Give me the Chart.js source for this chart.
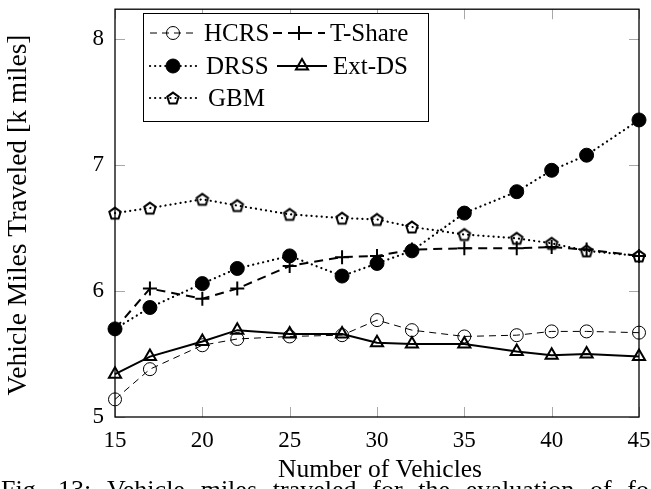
<!DOCTYPE html>
<html>
<head>
<meta charset="utf-8">
<script src="https://cdn.jsdelivr.net/npm/chart.js@4.4.1/dist/chart.umd.min.js"></script>
<style>
  html, body { margin: 0; padding: 0; background: #fff; }
  canvas { display: block; }
</style>
</head>
<body>
<canvas id="graficoVmt" width="651" height="489"></canvas>
<script>
// vehicle miles traveled (k miles) per fleet size
const vehicles = [15, 17, 20, 22, 25, 28, 30, 32, 35, 38, 40, 42, 45];
const hcrs   = [5.14, 5.38, 5.57, 5.62, 5.64, 5.65, 5.77, 5.69, 5.64, 5.65, 5.68, 5.68, 5.67];
const tShare = [5.70, 6.02, 5.94, 6.02, 6.20, 6.27, 6.28, 6.33, 6.34, 6.34, 6.35, 6.33, 6.28];
const drss   = [5.70, 5.87, 6.06, 6.18, 6.28, 6.12, 6.22, 6.32, 6.62, 6.79, 6.96, 7.08, 7.36];
const extDs  = [5.34, 5.48, 5.60, 5.69, 5.66, 5.66, 5.59, 5.58, 5.58, 5.52, 5.49, 5.50, 5.48];
const gbm    = [6.62, 6.66, 6.73, 6.68, 6.61, 6.58, 6.57, 6.51, 6.45, 6.42, 6.38, 6.32, 6.28];
const xTicks = [15, 20, 25, 30, 35, 40, 45];
const yTicks = [5, 6, 7, 8];

const fonte = '"Liberation Serif", "Times New Roman", serif';
const legenda = 'Fig. 13: Vehicle miles traveled for the evaluation of fo';

// open pentagon marker (no built-in pointStyle for it)
function pentagono(r, lw) {
    const c = document.createElement('canvas');
    const s = Math.ceil(2 * r + lw + 2);
    c.width = s; c.height = s;
    const ctx = c.getContext('2d');
    ctx.lineWidth = lw;
    ctx.strokeStyle = '#000';
    ctx.beginPath();
    for (let i = 0; i < 5; i++) {
        const a = -Math.PI / 2 + i * 2 * Math.PI / 5;
        const px = s / 2 + r * Math.cos(a), py = s / 2 + 0.6 + r * Math.sin(a);
        i ? ctx.lineTo(px, py) : ctx.moveTo(px, py);
    }
    ctx.closePath();
    ctx.stroke();
    return c;
}

function serie(label, valores, estilo) {
    return Object.assign({
        label,
        data: vehicles.map((v, i) => ({ x: v, y: valores[i] })),
        borderColor: '#000',
        pointBorderColor: '#000',
        pointBackgroundColor: 'rgba(0,0,0,0)',
        tension: 0,
        clip: false
    }, estilo);
}

const datasets = [
    serie('HCRS', hcrs, { borderWidth: 1, borderDash: [7, 5], pointStyle: 'circle', pointRadius: 6.5, pointBorderWidth: 1 }),
    serie('T-Share', tShare, { borderWidth: 2, borderDash: [9, 6], pointStyle: 'cross', pointRadius: 7, pointBorderWidth: 2 }),
    serie('DRSS', drss, { borderWidth: 2.2, borderDash: [0.1, 5], borderCapStyle: 'round', pointStyle: 'circle', pointRadius: 7, pointBorderWidth: 1, pointBackgroundColor: '#000' }),
    serie('Ext-DS', extDs, { borderWidth: 2, pointStyle: 'triangle', pointRadius: 7, pointBorderWidth: 2 }),
    serie('GBM', gbm, { borderWidth: 2.2, borderDash: [0.1, 5], borderCapStyle: 'round', pointStyle: pentagono(6, 2), pointRadius: 7 })
];

// frame with inward ticks on all four sides
const moldura = {
    id: 'moldura',
    beforeDatasetsDraw(chart) {
        const { ctx, chartArea: a, scales } = chart;
        ctx.save();
        ctx.strokeStyle = '#a8a8a8';
        ctx.lineWidth = 1;
        ctx.beginPath();
        xTicks.forEach(v => {
            const px = Math.round(scales.x.getPixelForValue(v)) + 0.5;
            ctx.moveTo(px, a.bottom); ctx.lineTo(px, a.bottom - 10);
            ctx.moveTo(px, a.top); ctx.lineTo(px, a.top + 10);
        });
        yTicks.forEach(v => {
            const py = Math.round(scales.y.getPixelForValue(v)) + 0.5;
            ctx.moveTo(a.left, py); ctx.lineTo(a.left + 10, py);
            ctx.moveTo(a.right, py); ctx.lineTo(a.right - 10, py);
        });
        ctx.stroke();
        ctx.strokeStyle = '#000';
        ctx.lineWidth = 1.3;
        ctx.strokeRect(a.left, a.top, a.right - a.left, a.bottom - a.top);
        ctx.restore();
    }
};

// legend box (2 columns) plus axis titles and caption
const legendaCaixa = {
    id: 'legendaCaixa',
    afterDraw(chart) {
        const ctx = chart.ctx;
        ctx.save();
        ctx.fillStyle = '#fff';
        ctx.fillRect(143, 13, 285, 108);
        ctx.strokeStyle = '#000';
        ctx.lineWidth = 1;
        ctx.strokeRect(143.5, 13.5, 285, 108);

        const entradas = [
            { i: 0, x0: 150, x1: 196, tx: 204, y: 33 },
            { i: 1, x0: 273, x1: 325, tx: 330, y: 33 },
            { i: 2, x0: 150, x1: 196, tx: 206, y: 66 },
            { i: 3, x0: 277, x1: 327, tx: 333, y: 66 },
            { i: 4, x0: 150, x1: 196, tx: 208, y: 98 }
        ];
        ctx.font = '25px ' + fonte;
        ctx.textBaseline = 'middle';
        entradas.forEach(e => {
            const ds = chart.data.datasets[e.i];
            ctx.save();
            ctx.strokeStyle = '#000';
            ctx.lineWidth = ds.borderWidth;
            ctx.lineCap = ds.borderCapStyle || 'butt';
            ctx.setLineDash(ds.borderDash || []);
            ctx.beginPath();
            ctx.moveTo(e.x0, e.y); ctx.lineTo(e.x1, e.y);
            ctx.stroke();
            ctx.restore();
            ctx.save();
            ctx.strokeStyle = '#000';
            ctx.fillStyle = ds.pointBackgroundColor;
            ctx.lineWidth = ds.pointBorderWidth || 1;
            Chart.helpers.drawPoint(ctx, {
                pointStyle: ds.pointStyle,
                radius: ds.pointRadius,
                borderWidth: ds.pointBorderWidth || 1,
                rotation: 0
            }, (e.x0 + e.x1) / 2, e.y);
            ctx.restore();
            ctx.fillStyle = '#000';
            ctx.fillText(ds.label, e.tx, e.y + 1);
        });

        ctx.fillStyle = '#000';
        ctx.textAlign = 'center';
        ctx.textBaseline = 'alphabetic';
        ctx.font = '25.5px ' + fonte;
        ctx.fillText('Number of Vehicles', 380, 477);

        ctx.save();
        ctx.translate(19, 215);
        ctx.rotate(-Math.PI / 2);
        ctx.textBaseline = 'middle';
        ctx.font = '27.5px ' + fonte;
        ctx.fillText('Vehicle Miles Traveled [k miles]', 0, 0);
        ctx.restore();

        // caption line, justified, cut by the bottom edge
        ctx.textAlign = 'left';
        ctx.font = '26px ' + fonte;
        const palavras = legenda.split(' ');
        const larguras = palavras.map(p => ctx.measureText(p).width);
        const total = larguras.reduce((s, w) => s + w, 0);
        const vao = (648 - total) / (palavras.length - 1);
        let x = 1;
        palavras.forEach((p, i) => {
            ctx.fillText(p, x, 498);
            x += larguras[i] + vao;
        });
        ctx.restore();
    }
};

const graficoVmt = new Chart(document.getElementById('graficoVmt'), {
    type: 'line',
    data: { datasets },
    plugins: [moldura, legendaCaixa],
    options: {
        responsive: false,
        animation: false,
        events: [],
        layout: { padding: { left: 0, right: 12, top: 8, bottom: 0 } },
        plugins: { legend: { display: false }, tooltip: { enabled: false } },
        scales: {
            x: {
                type: 'linear',
                min: 15,
                max: 45,
                grid: { display: false },
                border: { display: false },
                afterBuildTicks: s => { s.ticks = xTicks.map(v => ({ value: v })); },
                afterFit: s => { s.height = 72; s.paddingLeft = 0; s.paddingRight = 0; },
                ticks: { color: '#000', padding: 2, maxRotation: 0, font: { family: fonte, size: 23 } }
            },
            y: {
                min: 5,
                max: 8.24,
                grid: { display: false },
                border: { display: false },
                afterBuildTicks: s => { s.ticks = yTicks.map(v => ({ value: v })); },
                afterFit: s => { s.width = 115; s.paddingTop = 0; s.paddingBottom = 0; },
                ticks: { color: '#000', padding: 3, font: { family: fonte, size: 23 } }
            }
        }
    }
});
</script>
</body>
</html>
